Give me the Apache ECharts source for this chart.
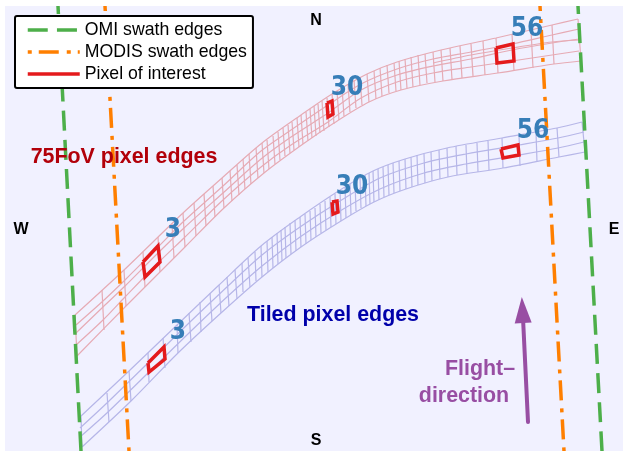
<!DOCTYPE html>
<html>
<head>
<meta charset="utf-8">
<style>html,body{margin:0;padding:0;background:#fff}#c{width:623px;height:451px}</style>
<script src="https://cdn.jsdelivr.net/npm/echarts@6/dist/echarts.min.js"></script>
</head>
<body>
<div id="c"></div>
<script>
// Cross-track pixel edges, 75FoV swath: top and bottom end of each
const redTopX = [75,102,124,143,158,172,183,194,204,213,222,230,237,243,249,256,262,267,273,278,283,288,292,297,301,306,310,314,318,322,327,332,337,342,348,354,360,367,374,380,387,394,399,405,411,418,425,433,441,450,460,471,483,496,512,531,552,578];
const redTopY = [315,290,270,252,237,224,213,203,194,186,178,171,165,159,154,148,143,140,136,132,128,125,122,118,115,112,109,106,104,101,98,94,91,88,84,80,77,74,71,68,65,63,61,59,57,55,54,52,50,48,46,44,41,38,34,30,25,19];
const redBotX = [77,104,126,145,160,174,185,196,206,215,224,232,239,245,251,258,264,269,275,280,285,290,294,299,303,308,312,316,320,324,329,334,339,344,350,356,362,369,376,382,389,396,401,407,413,420,427,435,443,452,462,473,485,498,514,533,554,581];
const redBotY = [356,330,306,287,272,258,247,236,226,217,208,201,195,189,184,178,173,169,164,160,156,153,150,147,144,141,138,136,133,131,127,124,120,116,112,108,105,102,99,96,93,91,90,88,87,85,83,82,81,79,78,76,75,73,71,68,64,61];
// Along-track edges, 75FoV swath
const redEdgeTop = [[75,315],[124,270],[183,213],[222,178],[262,143],[301,115],[332,94],[367,74],[397,62],[441,50],[496,38],[552,25],[578,19]];
const redEdgeBot = [[77,356],[126,306],[185,247],[224,208],[264,173],[303,144],[334,123],[369,102],[401,90],[443,81],[498,73],[554,64],[581,61]];
const redMidX = [76,103,125,159,184,223,261,291,328,361,397,433,471,512,552,579];
const redMid1 = [325,301,280,246,221,186,151,130,105,84,69,59,52,44,35,29];
const redMid2 = [333,307,286,252,228,193,159,137,113,90,75,66,59,50,43,39];
const redMid3 = [345,320,297,262,238,200,167,145,122,98,82,73,67,61,55,51];
const redExtraX = [433,471,512,552,579];
const redExtraY = [63,55,48,42,40];
// Tiled swath
const blueTopX = [81,107,129,148,163,177,189,200,210,219,227,235,242,248,255,261,267,272,277,281,285,290,295,300,305,310,315,320,325,330,335,340,345,350,355,360,365,369,373,378,383,388,393,399,405,411,417,424,431,439,447,456,466,477,488,502,519,536,557,582];
const blueTopY = [416,393,371,353,338,325,313,302,293,285,277,270,263,258,252,246,241,237,233,230,227,223,220,217,214,211,208,204,201,197,194,190,187,184,181,177,175,173,171,169,167,165,163,161,159,157,155,154,152,150,148,146,145,143,141,138,135,132,128,122];
const blueBotX = [82,109,131,149,165,178,191,201,212,221,229,237,243,250,256,262,268,273,278,282,286,291,296,301,306,311,316,321,326,331,336,341,346,351,356,361,366,370,374,379,384,389,394,400,406,412,418,425,432,440,448,457,467,478,489,503,520,537,559,585];
const blueBotY = [447,422,401,382,368,353,342,332,321,313,306,299,292,287,281,277,272,268,264,261,258,254,251,247,244,240,237,233,230,227,224,221,218,215,211,208,206,204,202,200,197,195,193,191,189,187,185,183,181,179,177,175,174,172,170,168,166,162,157,152];
const blueEdgeTop = [[81,416],[129,371],[177,325],[219,285],[261,246],[300,217],[340,190],[373,171],[405,159],[447,148],[502,138],[557,128],[582,122]];
const blueEdgeBot = [[82,447],[131,401],[178,353],[221,313],[262,277],[301,247],[341,221],[374,202],[406,189],[448,177],[503,168],[559,157],[585,152]];
const blueMidX = [80,108,148,190,228,262,300,340,380,424,466,519,558,584];
const blueMid1 = [428,402,363,322,286,255,227,201,178,163,154,145,138,132];
const blueMid2 = [437,412,373,332,296,266,237,211,189,173,164,155,148,142];
// Swath edges
const omiLeft = [[58,6],[81,451]];
const omiRight = [[578,6],[602,451]];
const modisLeft = [[105,6],[129,451]];
const modisRight = [[540,6],[564,451]];
// Pixels of interest
const pixelRed3 = [[143,262],[158,246],[160,262],[145,277]];
const pixelRed30 = [[327,103],[332,101],[333,114],[328,117]];
const pixelRed56 = [[496,48],[513,44],[514,61],[497,63]];
const pixelBlue3 = [[148,363],[164,347],[165,359],[149,372]];
const pixelBlue30 = [[332,202],[337,201],[338,212],[333,214]];
const pixelBlue56 = [[501,149],[518,145],[519,155],[503,158]];
// Flight arrow
const arrowShaft = [[528,422],[523,318]];
const arrowHead = [522.5,310];
// Texts
const pixelLabels = [["3",173,230],["30",347,88],["56",527,29],["3",178,332],["30",352,187],["56",533,131]];
const compass = [["N",316,21],["W",21,230],["E",614,230],["S",316,441]];
const legendNames = ["OMI swath edges","MODIS swath edges","Pixel of interest"];

const BREAK = ['-','-'];
function crossSeries(tx,ty,bx,by,color){
  return {type:'lines',coordinateSystem:'cartesian2d',silent:true,z:2,
    data:tx.map((x,i)=>({coords:[[x,ty[i]],[bx[i],by[i]]]})),
    lineStyle:{color,width:1.2,opacity:1,curveness:0}};
}
function zip(xs,ys){return xs.map((x,i)=>[x,ys[i]]);}
function gridSeries(data,color){return {type:'line',data,symbol:'none',silent:true,z:2,smooth:0.3,lineStyle:{color,width:1.2}};}
function closed(p){return p.concat([p[0],BREAK]);}
const RED='#e6abb5', BLUE='#b6b6e8', GREEN='#4daf4a', ORANGE='#ff7f00', PIX='#e41a1c', PURPLE='#984ea3';
const omiDash=[20,9.2], modisDash=[20,8,4,7];
const noMark={opacity:0,color:'transparent',borderWidth:0};

const texts = [
  ...pixelLabels.map(([t,x,y])=>({value:[x,y],label:{formatter:t,fontFamily:'DejaVu Sans Condensed',fontWeight:'bold',fontSize:26,color:'#377eb8'}})),
  ...compass.map(([t,x,y])=>({value:[x,y],label:{formatter:t,fontFamily:'Liberation Sans',fontWeight:'bold',fontSize:16,color:'#000'}})),
  {value:[124,157],label:{formatter:'75FoV pixel edges',fontFamily:'Liberation Sans',fontWeight:'bold',fontSize:21.4,color:'#b2000a'}},
  {value:[333,315],label:{formatter:'Tiled pixel edges',fontFamily:'Liberation Sans',fontWeight:'bold',fontSize:21.4,color:'#0000aa'}},
  {value:[480,369],label:{formatter:'Flight\u2013',fontFamily:'Liberation Sans',fontWeight:'bold',fontSize:21.4,color:PURPLE}},
  {value:[464,396],label:{formatter:'direction',fontFamily:'Liberation Sans',fontWeight:'bold',fontSize:21.4,color:PURPLE}}
];

const chart = echarts.init(document.getElementById('c'),null,{renderer:'canvas'});
chart.setOption({
  animation:false,
  backgroundColor:'#fff',
  grid:{show:true,left:5,top:6,right:0,bottom:0,backgroundColor:'#f1f1ff',borderWidth:0,containLabel:false},
  xAxis:{type:'value',min:5,max:623,show:false},
  yAxis:{type:'value',min:6,max:451,inverse:true,show:false},
  legend:{
    left:15,top:16,orient:'vertical',padding:[5,6,5,11],itemWidth:52,itemHeight:14,itemGap:4,
    backgroundColor:'#fff',borderColor:'#000',borderWidth:2,borderRadius:2,selectedMode:false,
    textStyle:{fontFamily:'Liberation Sans',fontSize:17.7,color:'#000',lineHeight:18},
    data:[
      {name:legendNames[0],itemStyle:noMark,lineStyle:{width:3.5,dashOffset:0}},
      {name:legendNames[1],itemStyle:noMark,lineStyle:{width:3.5,dashOffset:28}},
      {name:legendNames[2],itemStyle:noMark,lineStyle:{width:3.5}}
    ]
  },
  series:[
    crossSeries(redTopX,redTopY,redBotX,redBotY,RED),
    gridSeries(redEdgeTop,RED),
    gridSeries(redEdgeBot,RED),
    gridSeries(zip(redMidX,redMid1),RED),
    gridSeries(zip(redMidX,redMid2),RED),
    gridSeries(zip(redMidX,redMid3),RED),
    gridSeries(zip(redExtraX,redExtraY),RED),
    crossSeries(blueTopX,blueTopY,blueBotX,blueBotY,BLUE),
    gridSeries(blueEdgeTop,BLUE),
    gridSeries(blueEdgeBot,BLUE),
    gridSeries(zip(blueMidX,blueMid1),BLUE),
    gridSeries(zip(blueMidX,blueMid2),BLUE),
    {name:legendNames[0],type:'line',symbol:'none',z:3,silent:true,
      data:[...omiLeft,BREAK,...omiRight],
      lineStyle:{color:GREEN,width:3.5,type:omiDash,dashOffset:12},itemStyle:{color:GREEN}},
    {name:legendNames[1],type:'line',symbol:'none',z:3,silent:true,
      data:[...modisLeft,BREAK,...modisRight],
      lineStyle:{color:ORANGE,width:3.5,type:modisDash,dashOffset:15},itemStyle:{color:ORANGE}},
    {name:legendNames[2],type:'line',symbol:'none',z:4,silent:true,
      data:[pixelRed3,pixelRed30,pixelRed56,pixelBlue3,pixelBlue30,pixelBlue56].flatMap(closed),
      lineStyle:{color:PIX,width:3.5,join:'miter'},itemStyle:{color:PIX}},
    {type:'line',symbol:'none',z:5,silent:true,data:arrowShaft,lineStyle:{color:PURPLE,width:4,cap:'round'}},
    {type:'scatter',z:5,silent:true,data:[arrowHead],symbol:'triangle',symbolSize:[17,26],symbolRotate:3,itemStyle:{color:PURPLE,opacity:1}},
    {type:'scatter',z:6,silent:true,symbolSize:0,itemStyle:{opacity:1},data:texts,label:{show:true,position:'inside'}}
  ]
});
</script>
</body>
</html>
